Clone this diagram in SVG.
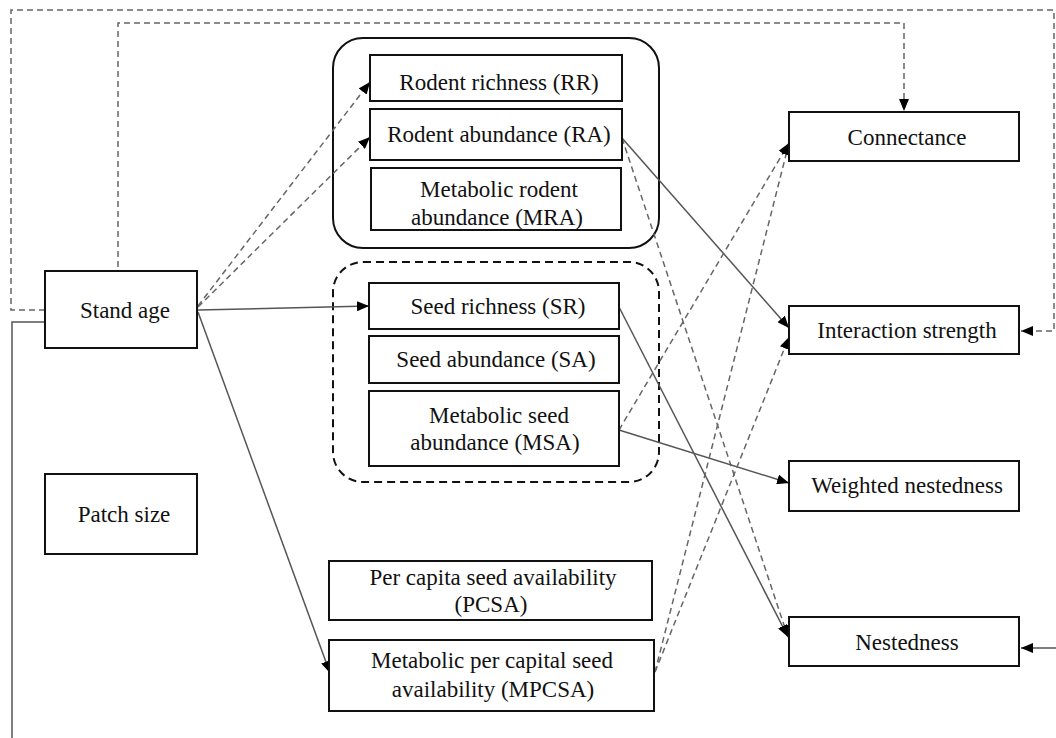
<svg xmlns="http://www.w3.org/2000/svg" width="1056" height="738" viewBox="0 0 1056 738">
<style>
.box{fill:#fff;stroke:#111;stroke-width:2}
.grp{fill:none;stroke:#111;stroke-width:2}
.grpd{fill:none;stroke:#111;stroke-width:2;stroke-dasharray:8 5}
text{font-family:"Liberation Serif","Times New Roman",serif;font-size:23px;fill:#111;text-anchor:middle}
.s{fill:none;stroke:#555;stroke-width:1.5}
.d{fill:none;stroke:#666;stroke-width:1.5;stroke-dasharray:6 4}
</style>
<defs>
<marker id="ah" viewBox="0 0 12 10" refX="12" refY="5" markerWidth="12" markerHeight="10" markerUnits="userSpaceOnUse" orient="auto">
<path d="M0,0 L12,5 L0,10 Z" fill="#000"/>
</marker>
</defs>
<rect width="1056" height="738" fill="#fff"/>
<g id="group-rodent"><rect class="grp" x="333" y="38" width="326" height="210" rx="30"/></g>
<g id="group-seed"><rect class="grpd" x="333" y="262" width="326" height="220" rx="30"/></g>
<g id="connectors">
<path class="d" d="M45,310 H11 V10 H1054 V331 H1021" marker-end="url(#ah)"/>
<path class="d" d="M118,267 V23 H904 V111" marker-end="url(#ah)"/>
<path class="s" d="M45,322 H12 V738"/>
<path class="s" d="M1056,648 H1021" marker-end="url(#ah)"/>
<path class="d" d="M198,306 L370,82" marker-end="url(#ah)"/>
<path class="d" d="M198,307 L370,137" marker-end="url(#ah)"/>
<path class="s" d="M198,310 L369,306" marker-end="url(#ah)"/>
<path class="s" d="M198,312 L330,673" marker-end="url(#ah)"/>
<path class="s" d="M622,138 L789,328" marker-end="url(#ah)"/>
<path class="d" d="M622,138 L788,637" marker-end="url(#ah)"/>
<path class="s" d="M619,307 L788,637" marker-end="url(#ah)"/>
<path class="s" d="M619,430 L789,483" marker-end="url(#ah)"/>
<path class="d" d="M619,430 L789,143" marker-end="url(#ah)"/>
<path class="d" d="M655,672 L789,143" marker-end="url(#ah)"/>
<path class="d" d="M655,672 L789,337" marker-end="url(#ah)"/>
</g>
<g id="stand-age"><rect class="box" x="45" y="271" width="152" height="77"/><text x="125" y="318">Stand age</text></g>
<g id="patch-size"><rect class="box" x="45" y="474" width="152" height="80"/><text x="124" y="522">Patch size</text></g>
<g id="rr"><rect class="box" x="370" y="55" width="252" height="46"/><text x="499" y="90">Rodent richness (RR)</text></g>
<g id="ra"><rect class="box" x="370" y="109" width="252" height="51"/><text x="499" y="142">Rodent abundance (RA)</text></g>
<g id="mra"><rect class="box" x="371" y="168" width="250" height="62"/><text x="499" y="197">Metabolic rodent</text><text x="497" y="225">abundance (MRA)</text></g>
<g id="sr"><rect class="box" x="369" y="283" width="250" height="46"/><text x="498" y="314">Seed richness (SR)</text></g>
<g id="sa"><rect class="box" x="369" y="336" width="250" height="47"/><text x="496" y="367">Seed abundance (SA)</text></g>
<g id="msa"><rect class="box" x="369" y="391" width="250" height="75"/><text x="499" y="423">Metabolic seed</text><text x="495" y="450">abundance (MSA)</text></g>
<g id="pcsa"><rect class="box" x="329" y="561" width="323" height="59"/><text x="493" y="585">Per capita seed availability</text><text x="491" y="612">(PCSA)</text></g>
<g id="mpcsa"><rect class="box" x="329" y="640" width="325" height="71"/><text x="492" y="668">Metabolic per capital seed</text><text x="493" y="697">availability  (MPCSA)</text></g>
<g id="connectance"><rect class="box" x="789" y="112" width="230" height="49"/><text x="907" y="145">Connectance</text></g>
<g id="interaction"><rect class="box" x="789" y="306" width="230" height="48"/><text x="907" y="338">Interaction strength</text></g>
<g id="weighted"><rect class="box" x="789" y="461" width="230" height="50"/><text x="907" y="493">Weighted nestedness</text></g>
<g id="nestedness"><rect class="box" x="789" y="617" width="230" height="49"/><text x="907" y="650">Nestedness</text></g>
</svg>
